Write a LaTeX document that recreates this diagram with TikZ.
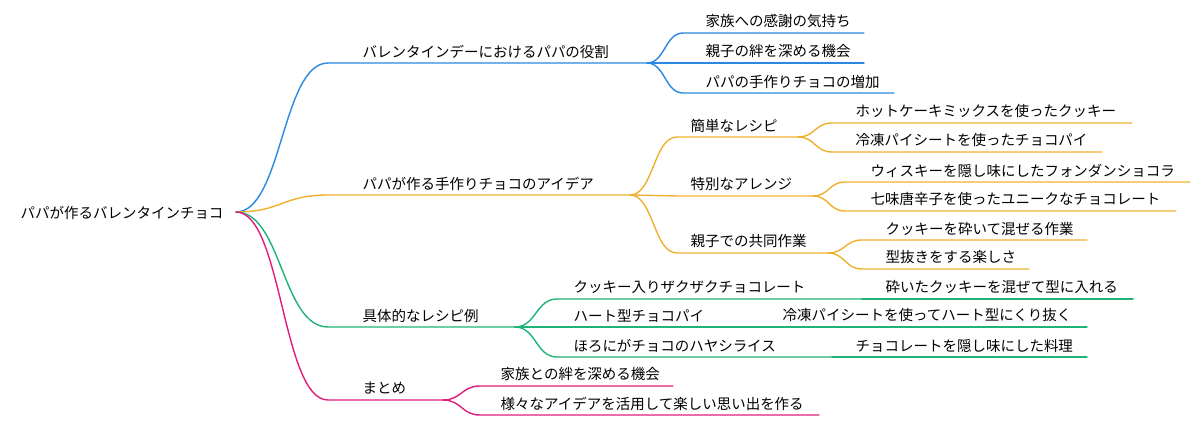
\documentclass[tikz,border=0pt]{standalone}
\usepackage{fontspec}
\newfontfamily\jpfont{Noto Sans CJK JP}
\usetikzlibrary{calc}
\definecolor{roleblue}{HTML}{2A88E2}
\definecolor{ideagold}{HTML}{EFB02E}
\definecolor{recipegreen}{HTML}{1FB477}
\definecolor{sumpink}{HTML}{E21C7C}
\tikzset{
	branch/.style={to path={let \p1=(\tikztostart), \p2=(\tikztotarget) in
		.. controls ({(\x1+\x2)/2},\y1) and ({(\x1+\x2)/2},\y2) .. (\tikztotarget)}},
	leaf/.style={anchor=west, inner sep=0pt},
}
\begin{document}
\begin{tikzpicture}[x=0.025cm, y=-0.025cm, font=\jpfont\fontsize{10.3}{12}\selectfont, line join=round, line cap=round, line width=1pt]
		\useasboundingbox (0,0) rectangle (1200,425);
		\path
		(236,212) coordinate (root-e)
		;
		\node[leaf] (root) at (20,213) {パパが作るバレンタインチョコ};
		% name/parent/colour/line start/line end/line y/text x/text
		\foreach \id/\up/\col/\sx/\ex/\ly/\tx/\txt in {
			role/root/roleblue/328/647/63/362/バレンタインデーにおけるパパの役割,
			idea/root/ideagold/328/630/195/362/パパが作る手作りチョコのアイデア,
			recipe/root/recipegreen/328/515/327/362/具体的なレシピ例,
			sum/root/sumpink/328/443/400/362/まとめ,
			role1/role/roleblue/683/864/33/705/家族への感謝の気持ち,
			role2/role/roleblue/683/864/63/705/親子の絆を深める機会,
			role3/role/roleblue/683/894/93/705/パパの手作りチョコの増加,
			easy/idea/ideagold/677/798/137/690/簡単なレシピ,
			special/idea/ideagold/677/813/196/690/特別なアレンジ,
			joint/idea/ideagold/677/828/253/690/親子での共同作業,
			easy1/easy/ideagold/832/1132/123/855/ホットケーキミックスを使ったクッキー,
			easy2/easy/ideagold/832/1102/152/855/冷凍パイシートを使ったチョコパイ,
			spec1/special/ideagold/845/1190/182/870/ウィスキーを隠し味にしたフォンダンショコラ,
			spec2/special/ideagold/845/1176/211/870/七味唐辛子を使ったユニークなチョコレート,
			joint1/joint/ideagold/862/1087/240/885/クッキーを砕いて混ぜる作業,
			joint2/joint/ideagold/862/1029/269/885/型抜きをする楽しさ,
			rec1/recipe/recipegreen/557/862/299/573/クッキー入りザクザクチョコレート,
			rec2/recipe/recipegreen/557/760/327/573/ハート型チョコパイ,
			rec3/recipe/recipegreen/557/832/357/573/ほろにがチョコのハヤシライス,
			rec1a/rec1/recipegreen/862/1133/299/885/砕いたクッキーを混ぜて型に入れる,
			rec2a/rec2/recipegreen/760/1087/327/782/冷凍パイシートを使ってハート型にくり抜く,
			rec3a/rec3/recipegreen/832/1087/357/855/チョコレートを隠し味にした料理,
			sum1/sum/sumpink/480/673/386/500/家族との絆を深める機会,
			sum2/sum/sumpink/480/819/415/500/様々なアイデアを活用して楽しい思い出を作る}
		{
			\path (\sx,\ly) coordinate (\id-s) (\ex,\ly) coordinate (\id-e);
			\draw[\col] (\up-e) to[branch] (\id-s) -- (\id-e);
			\node[leaf] (\id) at (\tx,\ly-11.5) {\txt};
		}
	\end{tikzpicture}
\end{document}
